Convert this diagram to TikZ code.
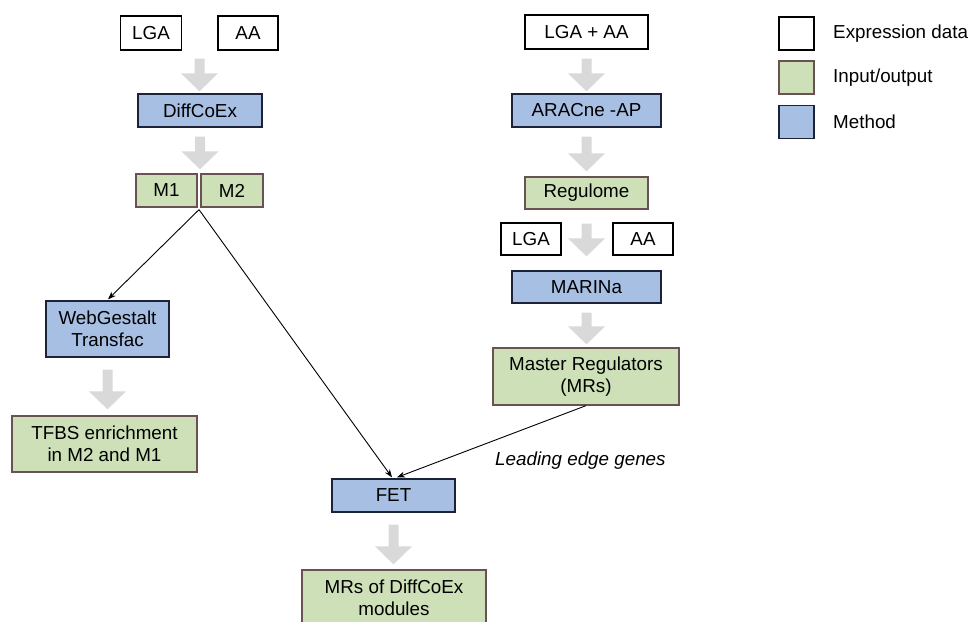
\documentclass[tikz,border=0pt]{standalone}
\usepackage{fontspec}
\setmainfont{Liberation Sans}
\usetikzlibrary{calc,arrows.meta}
\definecolor{methfill}{HTML}{A8BFE4}
\definecolor{methbord}{HTML}{1C2338}
\definecolor{iofill}{HTML}{CDE0B8}
\definecolor{iobord}{HTML}{6B5252}
\definecolor{arrowgray}{HTML}{D9D9D9}
\newcommand\blockarrow[2]{%
  \fill[arrowgray] let \p1=(#1), \p2=(#2) in
    (\x1-5pt,\y1) -- (\x1+5pt,\y1) -- (\x1+5pt,\y2+18pt) -- (\x1+18.5pt,\y2+18pt)
    -- (\x1,\y2) -- (\x1-18.5pt,\y2+18pt) -- (\x1-5pt,\y2+18pt) -- cycle;}
\tikzset{
  basebox/.style={line width=1.3pt, inner sep=0pt, align=center,
    font=\fontsize{18.8}{22.5}\selectfont},
  datab/.style={basebox, draw=black, fill=white},
  iob/.style={basebox, draw=iobord, fill=iofill},
  methb/.style={basebox, draw=methbord, fill=methfill},
  conn/.style={line width=0.9pt, -{Stealth[length=8pt,width=6pt]}},
  legtext/.style={anchor=west, inner sep=0pt, font=\fontsize{18.8}{22.5}\selectfont},
}
\begin{document}
\begin{tikzpicture}[x=1pt,y=-1pt]
\useasboundingbox (0,0) rectangle (973,621);
% left column
\node[datab, minimum width=61, minimum height=34] (lga1) at (151,33) {LGA};
\node[datab, minimum width=60, minimum height=34] (aa1) at (248,33) {AA};
\node[methb, minimum width=124, minimum height=33] (dcx) at (200,110.5) {DiffCoEx};
\node[iob, minimum width=61, minimum height=33] (m1) at (166.5,190.5) {M1};
\node[iob, minimum width=62, minimum height=33] (m2) at (232,190.5) {M2};
\node[methb, minimum width=123, minimum height=56] (web) at (107.5,329) {WebGestalt\\Transfac};
\node[iob, minimum width=185, minimum height=56] (tfbs) at (104.5,444) {TFBS enrichment\\in M2 and M1};
% right column
\node[datab, minimum width=123, minimum height=34] (lgaaa) at (586.5,32) {LGA + AA};
\node[methb, minimum width=149, minimum height=33] (arac) at (586.5,110.5) {ARACne -AP};
\node[iob, minimum width=123, minimum height=32] (regul) at (586.5,193) {Regulome};
\node[datab, minimum width=60, minimum height=32] (lga2) at (531,239) {LGA};
\node[datab, minimum width=60, minimum height=32] (aa2) at (643,239) {AA};
\node[methb, minimum width=149, minimum height=32] (marina) at (586.5,287) {MARINa};
\node[iob, minimum width=186, minimum height=57] (mrs) at (586,376.5) {Master Regulators\\(MRs)};
% bottom
\node[methb, minimum width=123, minimum height=33] (fet) at (393.5,495.5) {FET};
\node[iob, minimum width=184, minimum height=56] (mrsd) at (394,598) {MRs of DiffCoEx\\modules};
% legend
\node[datab, minimum width=35, minimum height=33] (leg1) at (796.5,33.5) {};
\node[iob, minimum width=35, minimum height=33] (leg2) at (796.5,77.5) {};
\node[methb, minimum width=35, minimum height=33] (leg3) at (796.5,122) {};
\node[legtext] (leg1t) at (833,33.5) {Expression data};
\node[legtext] (leg2t) at (833,77.5) {Input/output};
\node[legtext] (leg3t) at (833,122) {Method};
% block arrows
\blockarrow{$(lga1.south)!0.5!(aa1.south)+(0,8)$}{$(dcx.north)+(0,-2)$}
\blockarrow{$(dcx.south)+(0,9)$}{$(m1.north)+(0,-4)$}
\blockarrow{$(lgaaa.south)+(0,9)$}{$(arac.north)+(0,-2)$}
\blockarrow{$(arac.south)+(0,9)$}{$(regul.north)+(0,-5)$}
\blockarrow{$(regul.south)+(0,14)$}{$(marina.north)+(0,-14)$}
\blockarrow{$(marina.south)+(0,9)$}{$(mrs.north)+(0,-3)$}
\blockarrow{$(web.south)+(0,12)$}{$(tfbs.north)+(0,-6)$}
\blockarrow{$(fet.south)+(0,12)$}{$(mrsd.north)+(0,-5)$}
% connectors
\coordinate (split) at ($(m1.south east)!0.5!(m2.south west)+(0,2)$);
\draw[conn] (split) -- ([xshift=0.5pt,yshift=1pt]web.north);
\draw[conn] (split) -- ([xshift=-1.5pt,yshift=1pt]fet.north);
\draw[conn] (mrs.south) -- ([xshift=3.5pt,yshift=1pt]fet.north);
\node[anchor=base west, inner sep=0pt, font=\fontsize{18.8}{22.5}\selectfont\itshape] (leg) at (495,465) {Leading edge genes};
\end{tikzpicture}
\end{document}
